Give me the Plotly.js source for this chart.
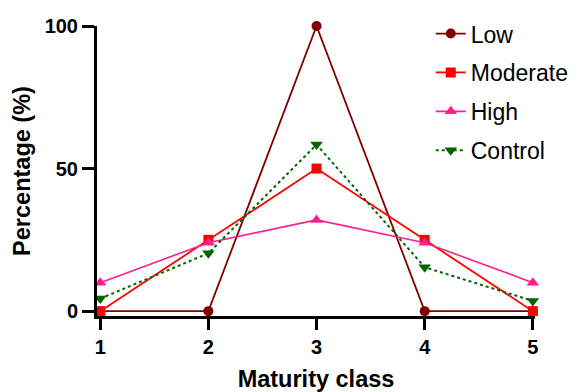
<!DOCTYPE html>
<html>
<head>
<meta charset="utf-8">
<script src="https://cdn.plot.ly/plotly-3.0.1.min.js"></script>
<style>html,body{margin:0;padding:0;background:#fff;}#chart{width:587px;height:392px;}</style>
</head>
<body>
<div id="chart"></div>
<script>
const maturityClass = [1, 2, 3, 4, 5];
const lowValues = [0, 0, 100, 0, 0];
const moderateValues = [0, 25, 50, 25, 0];
const highValues = [10, 24, 32, 24, 10];
const controlValues = [4.4, 20.3, 58.4, 15.4, 3.6];
const seriesNames = ["Low", "Moderate", "High", "Control"];
const xTickLabels = ["1", "2", "3", "4", "5"];
const yTickValues = [0, 50, 100];

const traces = [
  {x: maturityClass, y: lowValues, name: seriesNames[0], legendgroup: "a", mode: "lines+markers", cliponaxis: false,
   line: {color: "#800000", width: 1.8}, marker: {symbol: "circle", size: 10, color: "#800000"}},
  {x: maturityClass, y: moderateValues, name: seriesNames[1], legendgroup: "b", mode: "lines+markers", cliponaxis: false,
   line: {color: "#ff0000", width: 1.8}, marker: {symbol: "square", size: 10, color: "#ff0000"}},
  {x: maturityClass, y: highValues, name: seriesNames[2], legendgroup: "c", mode: "lines+markers", cliponaxis: false,
   line: {color: "#ff1f8f", width: 1.6}, marker: {symbol: "triangle-up", size: 11, color: "#ff1f8f"}},
  {x: maturityClass, y: controlValues, name: seriesNames[3], legendgroup: "d", mode: "lines+markers", cliponaxis: false,
   line: {color: "#006400", width: 2, dash: "dot"}, marker: {symbol: "triangle-down", size: 11, color: "#006400"}}
];

const layout = {
  width: 587, height: 392,
  margin: {l: 97, r: 52, t: 23, b: 76},
  paper_bgcolor: "#ffffff", plot_bgcolor: "#ffffff",
  font: {family: "Liberation Sans, Arial, sans-serif", color: "#000"},
  showlegend: true,
  legend: {x: 0.762, xanchor: "left", y: 1.048, yanchor: "top", font: {size: 23, color: "#000"},
           tracegroupgap: 6, bgcolor: "rgba(0,0,0,0)", borderwidth: 0},
  xaxis: {
    range: [0.97, 5.02], tickvals: maturityClass, ticktext: xTickLabels,
    showgrid: false, zeroline: false, showline: true, linecolor: "#000", linewidth: 3,
    ticks: "outside", ticklen: 11, tickwidth: 3, tickcolor: "#000",
    tickfont: {size: 20, family: "Liberation Sans, Arial, sans-serif", weight: "bold"},
    title: {text: "<b>Maturity class</b>", font: {size: 23.5}, standoff: 14},
    automargin: false
  },
  yaxis: {
    range: [-1.7, 100], tickvals: yTickValues,
    showgrid: false, zeroline: false, showline: true, linecolor: "#000", linewidth: 3,
    ticks: "outside", ticklen: 12, tickwidth: 3, tickcolor: "#000",
    tickfont: {size: 20, family: "Liberation Sans, Arial, sans-serif", weight: "bold"},
    title: {text: "<b>Percentage (%)</b>", font: {size: 23.5}, standoff: 8},
    automargin: false
  }
};

Plotly.newPlot("chart", traces, layout, {displayModeBar: false, staticPlot: true});
</script>
</body>
</html>
